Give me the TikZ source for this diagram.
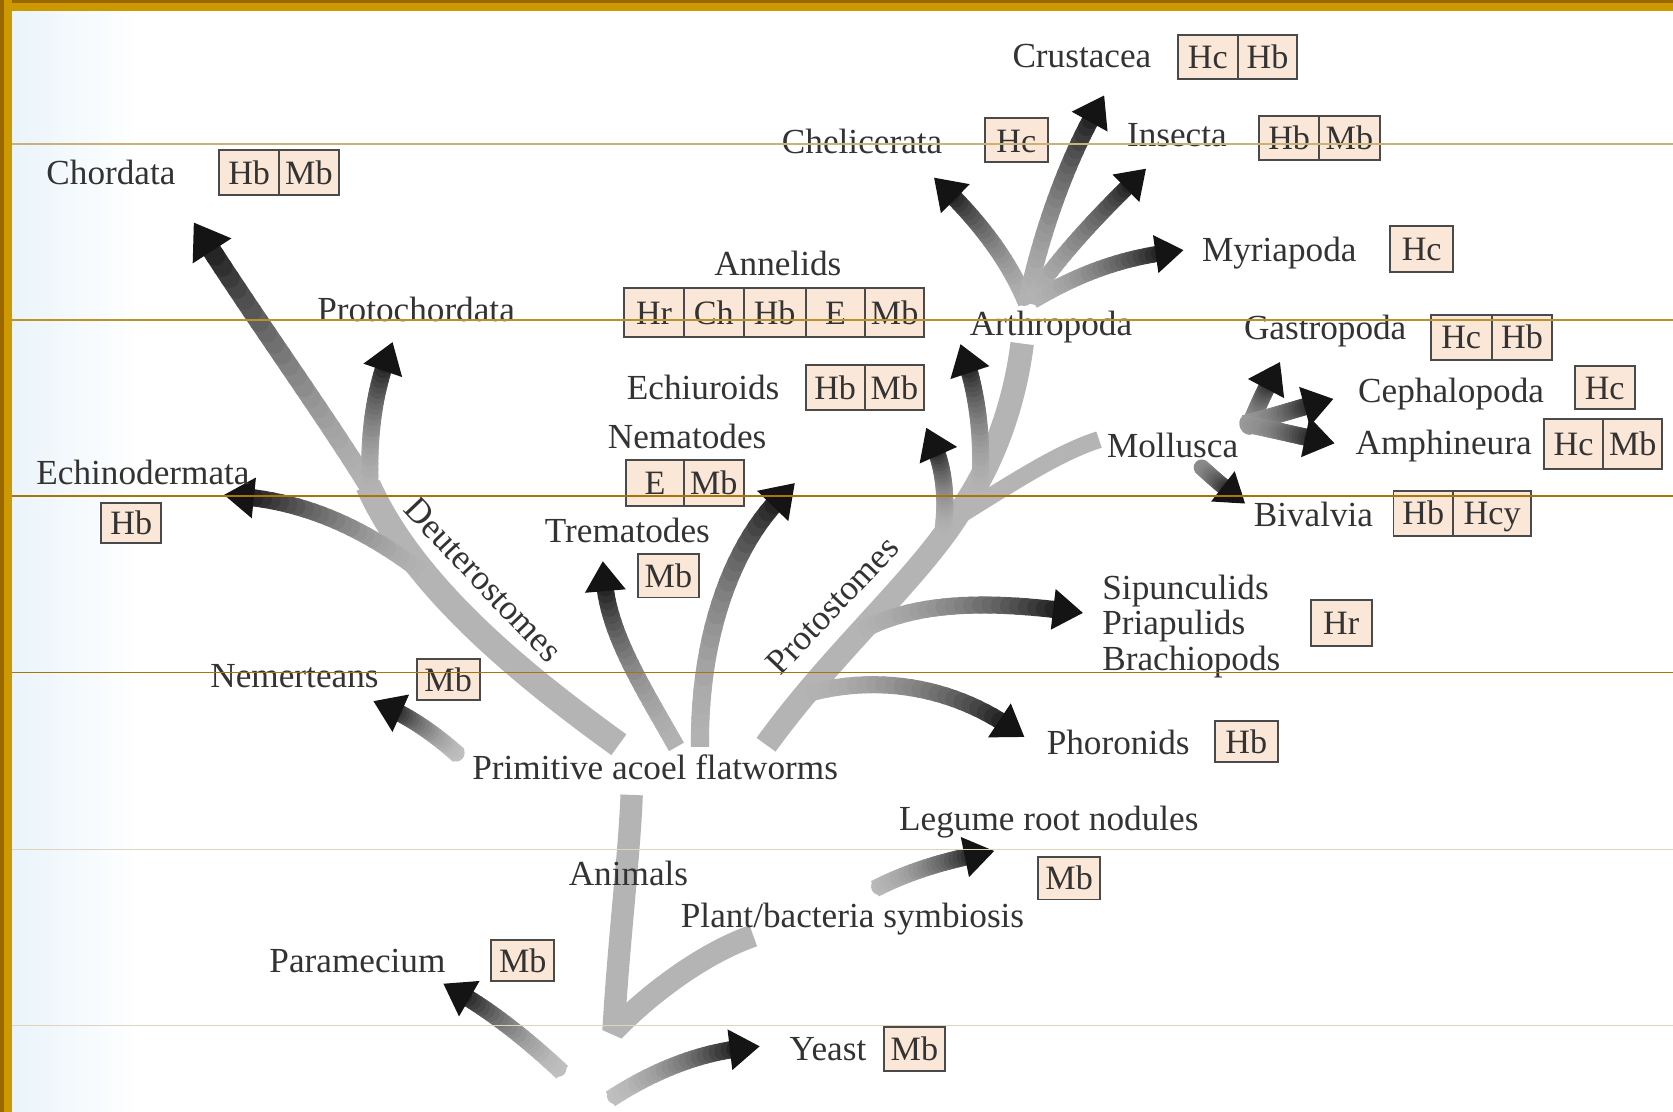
\documentclass[tikz,border=0pt]{standalone}
\usepackage{fontspec}
\setmainfont{Liberation Serif}
\usetikzlibrary{calc}
\definecolor{gold}{HTML}{CC9900}
\definecolor{darkgold}{HTML}{9A6700}
\definecolor{peach}{HTML}{FBE7D7}
\definecolor{ink}{HTML}{333333}
\definecolor{boxline}{HTML}{4A4A4A}
\definecolor{trunkgray}{HTML}{B4B4B4}
\definecolor{gridA}{HTML}{C9B27A}
\definecolor{gridB}{HTML}{B8922E}
\definecolor{gridC}{HTML}{A97508}
\definecolor{gridD}{HTML}{DDD5BC}
\definecolor{tint}{HTML}{EAF4FA}

% gradient arrow: [stem width]{start}{control 1}{control 2}{end}{name}{start grey level}
\newcommand\garrow[7][16]{%
  \path (#2) .. controls (#3) and (#4) .. (#5)
    \foreach \k in {0,...,24}{coordinate[pos=\k/24] (#6-\k)};
  \foreach \k in {0,...,23}{%
    \pgfmathtruncatemacro\kk{\k+1}%
    \pgfmathtruncatemacro\lv{#7+(92-#7)*((\k+0.5)/24)^1.7}%
    \ifnum\k=0 \def\mycap{butt}\else\ifnum\k=23 \def\mycap{butt}\else\def\mycap{round}\fi\fi
    \draw[line width=#1pt, line cap=\mycap, color=black!\lv] (#6-\k) -- (#6-\kk);
  }
  \pgfmathsetmacro\hw{1.2*#1}\pgfmathsetmacro\hb{1.0*#1}\pgfmathsetmacro\hf{0.75*#1}%
  \fill[black!92] let \p1=($(#6-24)-(#6-22)$), \n1={atan2(\y1,\x1)} in
    ($(#6-24)+(\n1:\hf pt)$) -- ($(#6-24)+(\n1+180:\hb pt)+(\n1+90:\hw pt)$)
    -- ($(#6-24)+(\n1+180:\hb pt)+(\n1-90:\hw pt)$) -- cycle;
}

\tikzset{
  lbl/.style={font=\fontsize{33}{40}\selectfont, text=ink, inner sep=0pt, text height=22pt, text depth=0pt},
  cell/.style={draw=boxline, line width=1.8pt, fill=peach, inner sep=0pt, outer sep=0pt,
     minimum width=56pt, minimum height=42pt, font=\fontsize{32}{40}\selectfont, text=black!80,
     text height=22pt, text depth=0pt},
  trunkband/.style={draw=trunkgray, line cap=butt, line join=round},
  gridline/.style={line width=1.3pt},
}

\begin{document}
\begin{tikzpicture}[x={(1pt,0)}, y={(0,-1pt)}]
\useasboundingbox (0,0) rectangle (1568,1042);
\fill[white] (0,0) rectangle (1568,1042);
\shade[left color=tint, right color=white] (11,10) rectangle (130,1042);
% frame
\fill[gold] (0,0) rectangle (1568,10);
\fill[darkgold] (0,0) rectangle (1568,3);
\fill[gold] (0,0) rectangle (11,1042);
\fill[darkgold] (0,0) rectangle (4,1042);

% junctions
\coordinate (vb) at (575,966);
\coordinate (anTop) at (592,745);
\coordinate (plEnd) at (706,877);
\coordinate (deBase) at (580,698);
\coordinate (deSplit) at (345,455);
\coordinate (prBase) at (718,698);
\coordinate (prFork) at (898,482);
\coordinate (arTop) at (958,322);
\coordinate (moStart) at (885,492);
\coordinate (moEnd) at (1030,412);

% trunks
\draw[trunkband, line width=24pt] (deBase) .. controls (500,640) and (390,555) .. (deSplit);
\draw[trunkband, line width=22pt] (prBase) .. controls (780,612) and (858,545) .. (prFork)
   .. controls (935,430) and (952,370) .. (arTop);
\draw[trunkband, line width=16pt] (moStart) .. controls (950,452) and (990,425) .. (moEnd);
\draw[trunkband, line width=21pt, line join=bevel] (anTop) .. controls (590,800) and (580,880) .. (vb)
   .. controls (610,930) and (660,893) .. (plEnd);

% gradient arrows
\garrow[18]{345,455}{305,390}{240,300}{189,220}{chA}{30}
\garrow[16]{347,458}{345,410}{350,370}{364,332}{prA}{30}
\garrow[16]{395,536}{345,498}{290,470}{222,465}{ecA}{30}
\garrow[16]{430,708}{410,690}{385,672}{361,662}{neA}{25}
\garrow[16]{634,700}{600,640}{568,590}{566,538}{trA}{30}
\garrow[17]{656,700}{655,590}{690,505}{736,462}{nmA}{30}
\garrow[16]{884,495}{888,465}{884,435}{873,412}{euA}{30}
\garrow[16]{918,458}{922,410}{915,365}{904,334}{anA}{30}
\garrow[16]{806,592}{862,560}{940,565}{1003,573}{siA}{30}
\garrow[16]{757,650}{830,630}{900,648}{950,684}{phA}{30}
\garrow[16]{962,284}{945,242}{915,205}{884,175}{chelA}{30}
\garrow[16]{962,284}{975,220}{1000,150}{1029,100}{crA}{30}
\garrow[15]{966,280}{995,237}{1035,196}{1066,166}{inA}{30}
\garrow[15]{968,282}{1010,257}{1050,242}{1098,236}{myA}{30}
\garrow[16]{1170,402}{1178,382}{1186,365}{1194,350}{gaA}{40}
\garrow[16]{1166,397}{1195,390}{1215,383}{1238,377}{ceA}{40}
\garrow[16]{1166,397}{1195,403}{1215,408}{1239,413}{amA}{40}
\garrow[15]{1125,437}{1135,446}{1145,455}{1158,465}{biA}{45}
\garrow[16]{820,833}{855,815}{890,806}{920,800}{leA}{28}
\garrow[16]{527,1005}{495,975}{460,947}{426,928}{paA}{25}
\garrow[16]{572,1030}{610,1005}{655,986}{700,982}{yeA}{25}

% labels
\node[lbl] (chordata) at (104,162) {Chordata};
\node[lbl] (protochordata) at (390,290) {Protochordata};
\node[lbl] (echino) at (134,443) {Echinodermata};
\node[lbl] (nemert) at (276,633) {Nemerteans};
\node[lbl] (flat) at (614,720) {Primitive acoel flatworms};
\node[lbl] (animals) at (589,819) {Animals};
\node[lbl] (param) at (335,900) {Paramecium};
\node[lbl] (yeast) at (776,983) {Yeast};
\node[lbl] (plant) at (799,858) {Plant/bacteria symbiosis};
\node[lbl] (legume) at (983,767) {Legume root nodules};
\node[lbl] (phoron) at (1048,696) {Phoronids};
\node[lbl, anchor=west] (sipun) at (1033,551) {Sipunculids};
\node[lbl, anchor=west] (priap) at (1033,584) {Priapulids};
\node[lbl, anchor=west] (brach) at (1033,617) {Brachiopods};
\node[lbl] (bival) at (1231,482) {Bivalvia};
\node[lbl] (mollusca) at (1099,418) {Mollusca};
\node[lbl] (amphi) at (1353,415) {Amphineura};
\node[lbl] (cephal) at (1360,366) {Cephalopoda};
\node[lbl] (gastro) at (1242,307) {Gastropoda};
\node[lbl] (myria) at (1199,234) {Myriapoda};
\node[lbl] (insecta) at (1103,126) {Insecta};
\node[lbl] (crust) at (1014,52) {Crustacea};
\node[lbl] (chelic) at (808,133) {Chelicerata};
\node[lbl] (arthro) at (985,303) {Arthropoda};
\node[lbl] (annel) at (729,247) {Annelids};
\node[lbl] (echiu) at (659,363) {Echiuroids};
\node[lbl] (nemat) at (644,409) {Nematodes};
\node[lbl] (tremat) at (588,497) {Trematodes};
\node[lbl, rotate=-46.5] (deut) at (453,543) {Deuterostomes};
\node[lbl, rotate=46.5] (proto) at (780,567) {Protostomes};

% boxes
\node[cell] (b1a) at (233.5,162) {Hb};
\node[cell, anchor=west] (b1b) at (b1a.east) {Mb};
\node[cell, minimum height=38pt] (b2) at (123,490) {Hb};
\node[cell, minimum height=38pt, minimum width=59pt] (b3) at (420,637) {Mb};
\node[cell, minimum height=38pt, minimum width=59pt] (b4) at (490,900) {Mb};
\node[cell, minimum height=41pt, minimum width=57pt] (b5) at (857,983) {Mb};
\node[cell, minimum height=40pt, minimum width=58pt] (b6) at (1002,823) {Mb};
\node[cell, minimum height=39pt, minimum width=59pt] (b7) at (1168,695) {Hb};
\node[cell, minimum height=43pt, minimum width=57pt] (b8) at (1257,584) {Hr};
\node[cell] (b9a) at (1334,481) {Hb};
\node[cell, anchor=west, minimum width=73pt] (b9b) at (b9a.east) {Hcy};
\node[cell, minimum height=47pt, minimum width=55.5pt] (b10a) at (1474.75,416) {Hc};
\node[cell, anchor=west, minimum height=47pt, minimum width=55.5pt] (b10b) at (b10a.east) {Mb};
\node[cell, minimum height=40pt] (b11) at (1504,363) {Hc};
\node[cell, minimum width=57pt] (b12a) at (1369.5,316) {Hc};
\node[cell, anchor=west, minimum width=57pt] (b12b) at (b12a.east) {Hb};
\node[cell, minimum height=43pt, minimum width=59pt] (b13) at (1332.5,233.5) {Hc};
\node[cell, minimum height=41pt, minimum width=56.5pt] (b14a) at (1208.25,129.5) {Hb};
\node[cell, anchor=west, minimum height=41pt, minimum width=56.5pt] (b14b) at (b14a.east) {Mb};
\node[cell, minimum height=41pt] (b15a) at (1132,53.5) {Hc};
\node[cell, anchor=west, minimum height=41pt] (b15b) at (b15a.east) {Hb};
\node[cell, minimum height=41pt, minimum width=59pt] (b16) at (952.5,131.5) {Hc};
\node[cell, minimum height=46pt] (b17a) at (613,293) {Hr};
\node[cell, anchor=west, minimum height=46pt] (b17b) at (b17a.east) {Ch};
\node[cell, anchor=west, minimum height=46pt, minimum width=58pt] (b17c) at (b17b.east) {Hb};
\node[cell, anchor=west, minimum height=46pt] (b17d) at (b17c.east) {E};
\node[cell, anchor=west, minimum height=46pt, minimum width=55pt] (b17e) at (b17d.east) {Mb};
\node[cell, minimum width=55.5pt] (b18a) at (782.75,363) {Hb};
\node[cell, anchor=west, minimum width=55.5pt] (b18b) at (b18a.east) {Mb};
\node[cell, minimum height=43pt, minimum width=54pt] (b19a) at (614,452.5) {E};
\node[cell, anchor=west, minimum height=43pt, minimum width=56pt] (b19b) at (b19a.east) {Mb};
\node[cell, minimum height=41pt, minimum width=57pt] (b20) at (626.5,539.5) {Mb};

% slide grid lines
\draw[gridline, gridA] (11,135) -- (1568,135);
\draw[gridline, gridB] (11,300) -- (1568,300);
\draw[gridline, gridC] (11,465) -- (1568,465);
\draw[gridline, gridC] (11,630) -- (1568,630);
\draw[gridline, gridD] (11,796) -- (1568,796);
\draw[gridline, gridD] (11,961) -- (1568,961);
\end{tikzpicture}
\end{document}
